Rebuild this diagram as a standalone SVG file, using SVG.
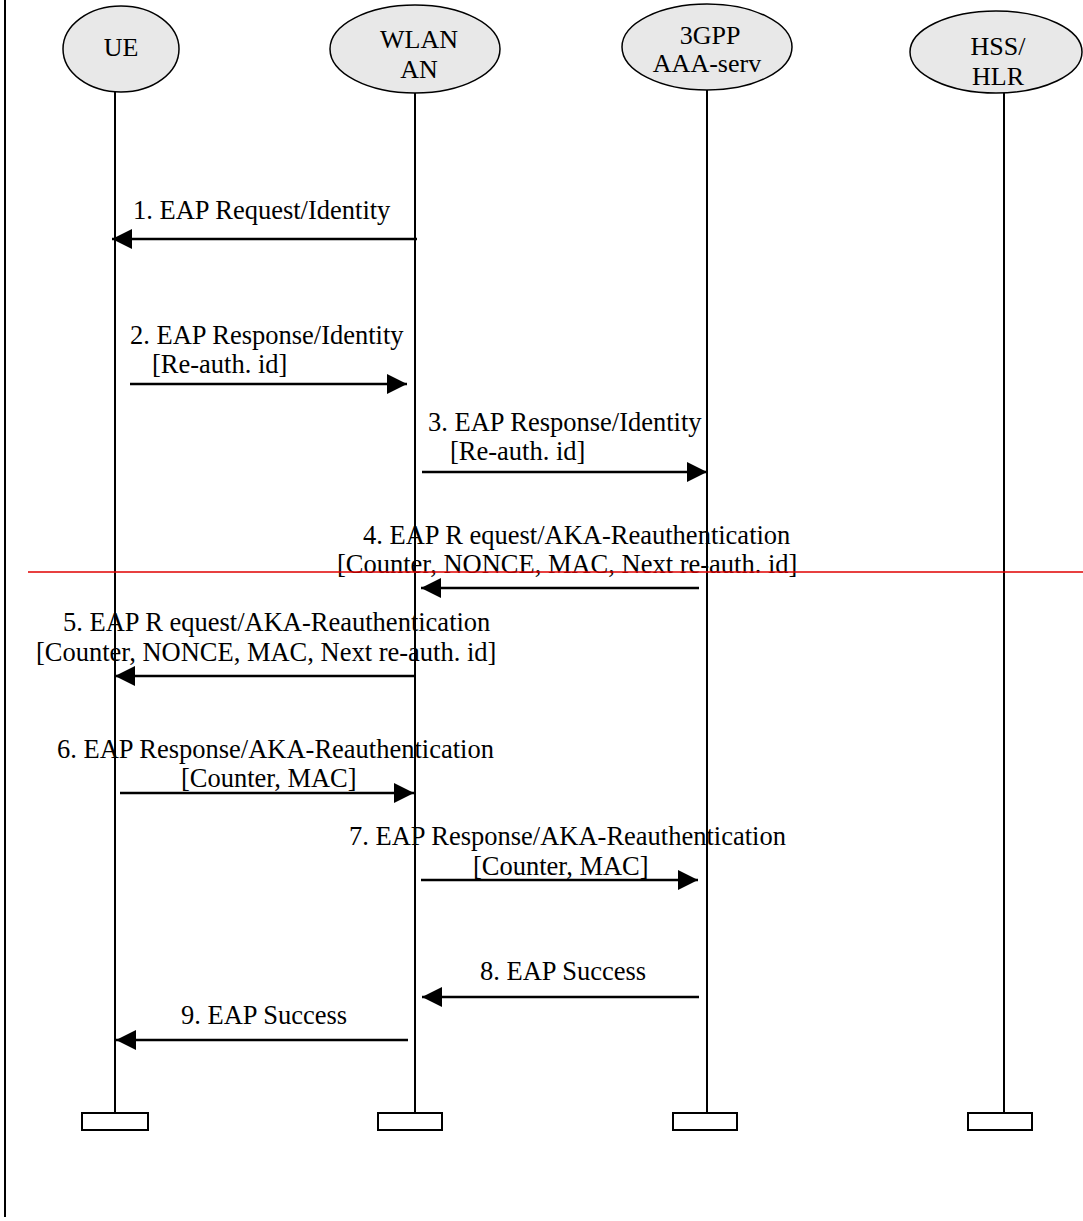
<svg xmlns="http://www.w3.org/2000/svg" width="1083" height="1221" viewBox="0 0 1083 1221">
<defs>
<style>
.t{font-family:"Liberation Serif","Times New Roman",serif;font-size:26.5px;fill:#000}
.n{font-family:"Liberation Serif","Times New Roman",serif;font-size:26px;fill:#000;text-anchor:middle}
.el{fill:#e8e8e8;stroke:#000;stroke-width:1.5}
.ll{stroke:#000;stroke-width:2;fill:none}
.box{fill:#fff;stroke:#000;stroke-width:2}
.msg{stroke:#000;stroke-width:2.5;fill:none;marker-end:url(#ah)}
</style>
<marker id="ah" viewBox="0 0 20 20" refX="20" refY="10" markerWidth="20" markerHeight="20" markerUnits="userSpaceOnUse" orient="auto">
<path d="M0,0 L20,10 L0,20 Z" fill="#000"/>
</marker>
</defs>
<rect width="1083" height="1221" fill="#fff"/>
<line x1="5" y1="0" x2="5" y2="1217" stroke="#000" stroke-width="2"/>

<g id="ue">
<ellipse class="el" cx="121" cy="49" rx="58" ry="43"/>
<text class="n" x="121" y="56">UE</text>
<line class="ll" x1="115" y1="92" x2="115" y2="1113"/>
<rect class="box" x="82" y="1113" width="66" height="17"/>
</g>
<g id="wlan">
<ellipse class="el" cx="415" cy="49" rx="85" ry="44"/>
<text class="n" x="419" y="48">WLAN</text>
<text class="n" x="419" y="78">AN</text>
<line class="ll" x1="415" y1="93" x2="415" y2="1113"/>
<rect class="box" x="378" y="1113" width="64" height="17"/>
</g>
<g id="aaa">
<ellipse class="el" cx="707" cy="47" rx="85" ry="43"/>
<text class="n" x="710" y="44">3GPP</text>
<text class="n" x="707" y="72">AAA-serv</text>
<line class="ll" x1="707" y1="90" x2="707" y2="1113"/>
<rect class="box" x="673" y="1113" width="64" height="17"/>
</g>
<g id="hss">
<ellipse class="el" cx="996" cy="52" rx="86" ry="41"/>
<text class="n" x="998" y="55">HSS/</text>
<text class="n" x="998" y="85">HLR</text>
<line class="ll" x1="1004" y1="93" x2="1004" y2="1113"/>
<rect class="box" x="968" y="1113" width="64" height="17"/>
</g>

<g id="connectors">
<line class="msg" x1="417" y1="239" x2="112" y2="239"/>
<line class="msg" x1="130" y1="384" x2="407" y2="384"/>
<line class="msg" x1="422" y1="472" x2="707" y2="472"/>
<line class="msg" x1="699" y1="588" x2="421" y2="588"/>
<line class="msg" x1="416" y1="676" x2="115" y2="676"/>
<line class="msg" x1="120" y1="793" x2="414" y2="793"/>
<line class="msg" x1="421" y1="880" x2="698" y2="880"/>
<line class="msg" x1="699" y1="997" x2="422" y2="997"/>
<line class="msg" x1="408" y1="1040" x2="116" y2="1040"/>
</g>

<g id="labels">
<text class="t" x="133" y="219">1. EAP Request/Identity</text>
<text class="t" x="130" y="344">2. EAP Response/Identity</text>
<text class="t" x="152" y="373">[Re-auth. id]</text>
<text class="t" x="428" y="431">3. EAP Response/Identity</text>
<text class="t" x="450" y="460">[Re-auth. id]</text>
<text class="t" x="363" y="544">4. EAP R equest/AKA-Reauthentication</text>
<text class="t" x="337" y="573">[Counter, NONCE, MAC, Next re-auth. id]</text>
<text class="t" x="63" y="631">5. EAP R equest/AKA-Reauthentication</text>
<text class="t" x="36" y="661">[Counter, NONCE, MAC, Next re-auth. id]</text>
<text class="t" x="57" y="758">6. EAP Response/AKA-Reauthentication</text>
<text class="t" x="181" y="787">[Counter, MAC]</text>
<text class="t" x="349" y="845">7. EAP Response/AKA-Reauthentication</text>
<text class="t" x="473" y="875">[Counter, MAC]</text>
<text class="t" x="480" y="980">8. EAP Success</text>
<text class="t" x="181" y="1024">9. EAP Success</text>
</g>

<line x1="28" y1="572" x2="1083" y2="572" stroke="#e00000" stroke-width="1.5"/>
</svg>
